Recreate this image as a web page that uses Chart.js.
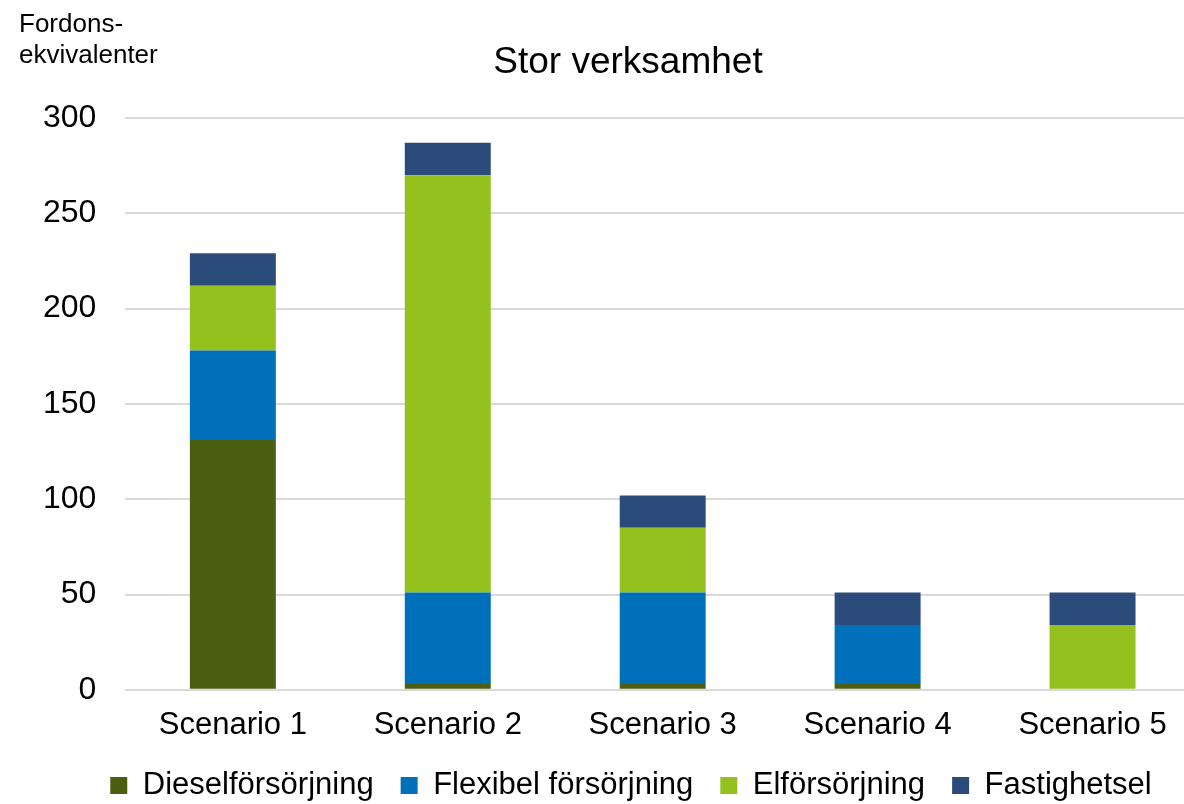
<!DOCTYPE html>
<html>
<head>
<meta charset="utf-8">
<script src="https://cdn.jsdelivr.net/npm/chart.js@4/dist/chart.umd.min.js"></script>
<style>
  body { margin: 0; background: #fff; overflow: hidden; }
  #wrap { width: 1184px; height: 804px; position: relative; overflow: hidden; }
</style>
</head>
<body>
<!-- the plot area in the original runs past the right edge, so the canvas is a bit wider than the page -->
<div id="wrap"><canvas id="chart" width="1200" height="804"></canvas></div>
<script>
const categories = ['Scenario 1', 'Scenario 2', 'Scenario 3', 'Scenario 4', 'Scenario 5'];
const diesel = [131, 3, 3, 3, 0];
const flexibel = [47, 48, 48, 31, 0];
const el = [34, 219, 34, 0, 34];
const fastighet = [17, 17, 17, 17, 17];

const titleText = 'Stor verksamhet';
const yTitleLines = ['Fordons-', 'ekvivalenter'];

const fontFamily = '"Liberation Sans", Arial, sans-serif';

// title and y axis caption are drawn by hand so they sit where the original has them
const textPlugin = {
    id: 'extraText',
    beforeInit(chart) {
        // pull the legend a little closer to the bottom edge and a bit to the right
        const legend = chart.legend;
        const fit = legend.fit;
        legend.fit = function () {
            fit.call(this);
            this.height -= 7;
        };
        const draw = legend.draw;
        legend.draw = function () {
            this.ctx.save();
            this.ctx.translate(24, 0);
            draw.call(this);
            this.ctx.restore();
        };
    },
    afterDraw(chart) {
        const ctx = chart.ctx;
        ctx.save();
        ctx.fillStyle = '#000';
        ctx.textBaseline = 'alphabetic';
        ctx.font = '26px ' + fontFamily;
        ctx.textAlign = 'left';
        ctx.fillText(yTitleLines[0], 19, 32);
        ctx.fillText(yTitleLines[1], 19, 63);
        ctx.font = '37px ' + fontFamily;
        ctx.textAlign = 'center';
        ctx.fillText(titleText, 628, 73);
        ctx.restore();
    }
};

function dataset(label, data, color) {
    return {
        label: label,
        data: data,
        backgroundColor: color,
        borderWidth: 0,
        barPercentage: 0.4,
        categoryPercentage: 1.0
    };
}

new Chart('chart', {
    type: 'bar',
    data: {
        labels: categories,
        datasets: [
            dataset('Dieselförsörjning', diesel, '#4a5f11'),
            dataset('Flexibel försörjning', flexibel, '#0070ba'),
            dataset('Elförsörjning', el, '#95c11f'),
            dataset('Fastighetsel', fastighet, '#2b4c7b')
        ]
    },
    options: {
        responsive: false,
        animation: false,
        layout: { padding: { top: 118, right: 0, left: 14, bottom: 0 } },
        plugins: {
            title: { display: false },
            tooltip: { enabled: false },
            legend: {
                position: 'bottom',
                labels: {
                    color: '#000',
                    font: { size: 31, family: fontFamily },
                    boxWidth: 17,
                    boxHeight: 17,
                    padding: 27
                }
            }
        },
        scales: {
            x: {
                stacked: true,
                grid: { display: false },
                border: { display: false },
                ticks: {
                    color: '#000',
                    font: { size: 31, family: fontFamily },
                    padding: 9
                },
                afterFit(scale) {
                    scale.height -= 10;
                }
            },
            y: {
                stacked: true,
                min: 0,
                max: 300,
                grid: { color: '#d9d9d9', lineWidth: 2, drawTicks: false },
                border: { display: false },
                ticks: {
                    stepSize: 50,
                    color: '#000',
                    font: { size: 32, family: fontFamily },
                    padding: 29
                }
            }
        }
    },
    plugins: [textPlugin]
});
</script>
</body>
</html>
